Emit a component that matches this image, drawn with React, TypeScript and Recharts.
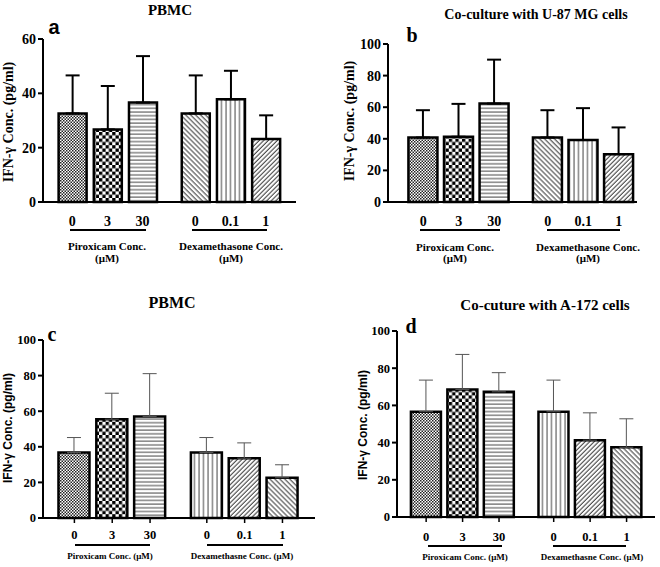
import React from "react";
import { BarChart, Bar, XAxis, YAxis, ErrorBar, Cell } from "recharts";

const SERIF = "'Liberation Serif', 'Times New Roman', serif";
const SANS = "'Liberation Sans', Arial, sans-serif";

const DOSES = ["0", "3", "30", "0", "0.1", "1"];

const PBMC_A_MEAN = [32.6, 26.7, 36.6, 32.6, 37.8, 23.2];
const PBMC_A_SD = [14.0, 16.0, 17.1, 14.0, 10.5, 8.7];

const U87_MEAN = [40.8, 41.3, 62.3, 40.8, 39.2, 30.3];
const U87_SD = [17.3, 20.8, 27.8, 17.3, 20.2, 16.9];

const PBMC_C_MEAN = [36.8, 55.5, 57.0, 36.8, 33.6, 22.6];
const PBMC_C_SD = [8.4, 14.6, 24.1, 8.4, 8.6, 7.3];

const A172_MEAN = [56.6, 68.6, 67.3, 56.6, 41.3, 37.5];
const A172_SD = [17.0, 18.8, 10.3, 17.0, 14.7, 15.3];

const TICKS_60 = [0, 20, 40, 60];
const TICKS_100 = [0, 20, 40, 60, 80, 100];

const FILLS_TOP = ["fine", "checker", "hlines", "diagDown", "vlines", "diagUp"];
const FILLS_BOTTOM = ["fine", "checker", "hlines", "vlines", "diagUp", "diagDown"];

// centre distance between the two groups, in bar slots
const GROUP_GAP = 1.5;

const slotOf = (i: number) => (i < 3 ? i : i + GROUP_GAP - 1);

const Patterns = () => (
  <svg width={0} height={0} style={{ position: "absolute" }}>
    <defs>
      <pattern id="fine" width={3} height={3} patternUnits="userSpaceOnUse">
        <rect width={3} height={3} fill="#fff" />
        <rect width={1.5} height={1.5} fill="#222" />
        <rect x={1.5} y={1.5} width={1.5} height={1.5} fill="#222" />
      </pattern>
      <pattern id="checker" width={6.6} height={6.6} patternUnits="userSpaceOnUse">
        <rect width={6.6} height={6.6} fill="#fff" />
        <rect width={3.3} height={3.3} fill="#000" />
        <rect x={3.3} y={3.3} width={3.3} height={3.3} fill="#000" />
      </pattern>
      <pattern id="hlines" width={4} height={3.7} patternUnits="userSpaceOnUse">
        <rect width={4} height={3.7} fill="#fff" />
        <line x1={0} y1={1} x2={4} y2={1} stroke="#444" strokeWidth={1} />
      </pattern>
      <pattern id="vlines" width={4.5} height={4} patternUnits="userSpaceOnUse">
        <rect width={4.5} height={4} fill="#fff" />
        <line x1={1} y1={0} x2={1} y2={4} stroke="#444" strokeWidth={1} />
      </pattern>
      <pattern id="diagDown" width={3.5} height={4} patternUnits="userSpaceOnUse" patternTransform="rotate(-45)">
        <rect width={3.5} height={4} fill="#fff" />
        <line x1={1} y1={0} x2={1} y2={4} stroke="#333" strokeWidth={1} />
      </pattern>
      <pattern id="diagUp" width={3.2} height={4} patternUnits="userSpaceOnUse" patternTransform="rotate(45)">
        <rect width={3.2} height={4} fill="#fff" />
        <line x1={1} y1={0} x2={1} y2={4} stroke="#333" strokeWidth={1} />
      </pattern>
    </defs>
  </svg>
);

const Txt = ({ x, y, children, size, font = SERIF, weight = 700, rotate = false }: any) => (
  <div
    style={{
      position: "absolute",
      left: x,
      top: y,
      transform: `translate(-50%, -50%)${rotate ? " rotate(-90deg)" : ""}`,
      whiteSpace: "nowrap",
      fontFamily: font,
      fontSize: size,
      fontWeight: weight,
      color: "#000",
      lineHeight: 1,
    }}
  >
    {children}
  </div>
);

const Underline = ({ x1, x2, y }: any) => (
  <div style={{ position: "absolute", left: x1, top: y, width: x2 - x1, height: 1.5, background: "#000" }} />
);

interface PanelProps {
  left: number;
  top: number;
  width: number;
  height: number;
  x0: number;
  x1: number;
  yTop: number;
  yBottom: number;
  yAxisW: number;
  means: number[];
  sds: number[];
  fills: string[];
  yMax: number;
  yTicks: number[];
  domain: [number, number];
  barSize: number;
  tickFont: number;
  xTickFont: number;
  xTickGap: number;
  xTickLine: boolean;
  errColor: string;
  errWidth: number;
}

const Panel = (p: PanelProps) => {
  const data = p.means.map((m, i) => ({
    pos: slotOf(i),
    dose: DOSES[i],
    mean: m,
    err: [0, p.sds[i]],
  }));
  const xAxisH = 30;
  const margin = {
    left: p.x0 - p.left - p.yAxisW,
    right: p.left + p.width - p.x1,
    top: p.yTop - p.top,
    bottom: p.top + p.height - p.yBottom - xAxisH,
  };
  const axisStyle = { stroke: "#000", strokeWidth: 2 };
  return (
    <div style={{ position: "absolute", left: p.left, top: p.top }}>
      <BarChart width={p.width} height={p.height} data={data} margin={margin}>
        <XAxis
          type="number"
          dataKey="pos"
          domain={p.domain}
          ticks={data.map((d) => d.pos)}
          tickFormatter={(v: number) => data.find((d) => Math.abs(d.pos - v) < 1e-6)?.dose ?? ""}
          allowDataOverflow
          height={xAxisH}
          axisLine={axisStyle}
          tickLine={p.xTickLine ? { stroke: "#000", strokeWidth: 1.5 } : false}
          tickSize={5}
          tickMargin={p.xTickGap - 5}
          interval={0}
          tick={{ fill: "#000", fontSize: p.xTickFont, fontWeight: 700, fontFamily: SERIF }}
        />
        <YAxis
          type="number"
          domain={[0, p.yMax]}
          ticks={p.yTicks}
          width={p.yAxisW}
          axisLine={axisStyle}
          tickLine={axisStyle}
          tickSize={5}
          tickMargin={2}
          interval={0}
          tick={{ fill: "#000", fontSize: p.tickFont, fontWeight: 700, fontFamily: SERIF }}
        />
        <Bar dataKey="mean" barSize={p.barSize} stroke="#000" strokeWidth={2.5} isAnimationActive={false}>
          {data.map((d, i) => (
            <Cell key={`cell-${i}`} fill={`url(#${p.fills[i]})`} />
          ))}
          <ErrorBar dataKey="err" width={7} stroke={p.errColor} strokeWidth={p.errWidth} direction="y" />
        </Bar>
      </BarChart>
    </div>
  );
};

export default function App() {
  return (
    <div style={{ position: "absolute", left: 0, top: 0, width: 660, height: 567, background: "#fff", overflow: "hidden" }}>
      <Patterns />

      {/* a */}
      <Panel
        left={0} top={0} width={330} height={270}
        x0={43} x1={296} yTop={39} yBottom={202} yAxisW={43}
        means={PBMC_A_MEAN} sds={PBMC_A_SD} fills={FILLS_TOP}
        yMax={60} yTicks={TICKS_60} domain={[-0.83, 6.36]} barSize={28}
        tickFont={14} xTickFont={14} xTickGap={14} xTickLine={false}
        errColor="#000" errWidth={2}
      />
      <Txt x={170} y={10} size={15}>PBMC</Txt>
      <Txt x={54} y={27} size={20} font={SANS}>a</Txt>
      <Txt x={9} y={122} size={14} rotate>IFN-γ Conc. (pg/ml)</Txt>
      <Underline x1={70} x2={146} y={229} />
      <Underline x1={192} x2={267} y={229} />
      <Txt x={107} y={246} size={11}>Piroxicam Conc.</Txt>
      <Txt x={107} y={258} size={11}>(μM)</Txt>
      <Txt x={231} y={246} size={11}>Dexamethasone Conc.</Txt>
      <Txt x={231} y={258} size={11}>(μM)</Txt>

      {/* b */}
      <Panel
        left={330} top={0} width={330} height={270}
        x0={388} x1={637} yTop={44} yBottom={202} yAxisW={40}
        means={U87_MEAN} sds={U87_SD} fills={FILLS_TOP}
        yMax={100} yTicks={TICKS_100} domain={[-0.99, 6.01]} barSize={29}
        tickFont={14} xTickFont={14} xTickGap={14} xTickLine={false}
        errColor="#000" errWidth={2}
      />
      <Txt x={536} y={15} size={14}>Co-culture with U-87 MG cells</Txt>
      <Txt x={412} y={35} size={20}>b</Txt>
      <Txt x={350} y={121} size={14} rotate>IFN-γ Conc. (pg/ml)</Txt>
      <Underline x1={420} x2={500} y={229} />
      <Underline x1={547} x2={620} y={229} />
      <Txt x={455} y={247} size={11}>Piroxicam Conc.</Txt>
      <Txt x={455} y={258} size={11}>(μM)</Txt>
      <Txt x={588} y={247} size={11}>Dexamethasone Conc.</Txt>
      <Txt x={588} y={258} size={11}>(μM)</Txt>

      {/* c */}
      <Panel
        left={0} top={270} width={330} height={297}
        x0={43} x1={315} yTop={340} yBottom={518} yAxisW={43}
        means={PBMC_C_MEAN} sds={PBMC_C_SD} fills={FILLS_BOTTOM}
        yMax={100} yTicks={TICKS_100} domain={[-0.83, 6.36]} barSize={31}
        tickFont={12.5} xTickFont={12.5} xTickGap={12} xTickLine
        errColor="#555" errWidth={1}
      />
      <Txt x={172} y={303} size={16}>PBMC</Txt>
      <Txt x={52} y={334} size={20}>c</Txt>
      <Txt x={8} y={428} size={12} font={SANS} rotate>IFN-γ Conc. (pg/ml)</Txt>
      <Underline x1={75} x2={150} y={544} />
      <Underline x1={207} x2={283} y={544} />
      <Txt x={110} y={556} size={9}>Piroxicam Conc. (μM)</Txt>
      <Txt x={242} y={556} size={9}>Dexamethasne Conc. (μM)</Txt>

      {/* d */}
      <Panel
        left={330} top={270} width={330} height={297}
        x0={397} x1={655} yTop={331} yBottom={517} yAxisW={40}
        means={A172_MEAN} sds={A172_SD} fills={FILLS_BOTTOM}
        yMax={100} yTicks={TICKS_100} domain={[-0.8, 6.28]} barSize={30}
        tickFont={12.5} xTickFont={12.5} xTickGap={15} xTickLine
        errColor="#555" errWidth={1}
      />
      <Txt x={545} y={305} size={15}>Co-cuture with A-172 cells</Txt>
      <Txt x={411} y={326} size={20}>d</Txt>
      <Txt x={363} y={425} size={12} font={SANS} rotate>IFN-γ Conc. (pg/ml)</Txt>
      <Underline x1={428} x2={502} y={545} />
      <Underline x1={553} x2={626} y={545} />
      <Txt x={465} y={557} size={9}>Piroxicam Conc. (μM)</Txt>
      <Txt x={592} y={557} size={9}>Dexamethasne Conc. (μM)</Txt>
    </div>
  );
}
